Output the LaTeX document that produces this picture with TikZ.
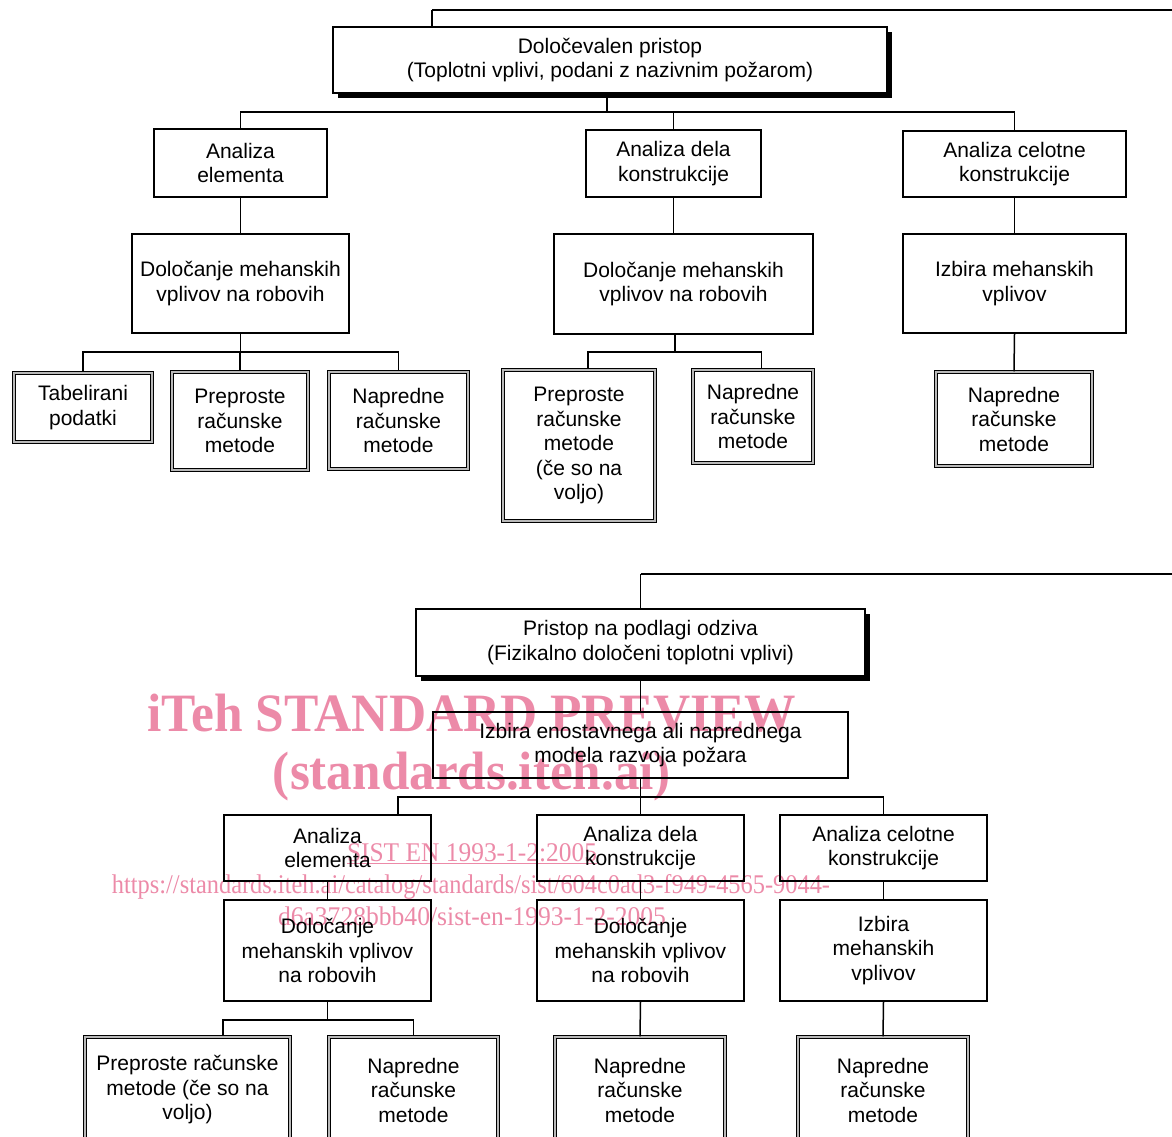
\documentclass[tikz,border=0pt]{standalone}
\usepackage{fontspec}
\setmainfont{Liberation Sans}
\newfontfamily\wmfont{Liberation Serif}
\usetikzlibrary{shadows}
\definecolor{wm}{RGB}{236,138,168}
\begin{document}
\begin{tikzpicture}[x=1pt,y=-1pt,
  every node/.style={font=\fontsize{21}{24.5}\selectfont, align=center, inner sep=0pt},
  sz/.style 2 args={minimum width=#1pt, minimum height=#2pt},
  plain/.style={draw, line width=1.7pt},
  shadowbox/.style={draw, line width=1.7pt, fill=white,
     drop shadow={shadow xshift=5pt, shadow yshift=-5pt, opacity=1, fill=black}},
  dbl/.style={draw, line width=1.3pt, double=gray!55, double distance=1.6pt},
  conn/.style={line width=1.5pt},
  feed/.style={line width=2.2pt},
  wmtext/.style={text=wm, anchor=base}
]
\useasboundingbox (0,0) rectangle (1172,1137);
\clip (0,0) rectangle (1172,1137);

% watermark (beneath the diagram)
\node[wmtext] (w1) at (472,731) {\resizebox{649pt}{\height}{\wmfont\bfseries\fontsize{54}{54}\selectfont iTeh STANDARD PREVIEW}};
\node[wmtext] (w2) at (472,789) {\resizebox{398pt}{\height}{\wmfont\bfseries\fontsize{54}{54}\selectfont (standards.iteh.ai)}};
\node[wmtext] (w3) at (472,861) {\resizebox{250pt}{\height}{\wmfont\fontsize{27}{27}\selectfont \underline{SIST EN 1993-1-2:2005}}};
\node[wmtext] (w4) at (471,893) {\resizebox{718pt}{\height}{\wmfont\fontsize{27}{27}\selectfont https://standards.iteh.ai/catalog/standards/sist/604c0ad3-f949-4565-9044-}};
\node[wmtext] (w5) at (472,925) {\resizebox{388pt}{\height}{\wmfont\fontsize{27}{27}\selectfont d6a3728bbb40/sist-en-1993-1-2-2005}};

% ---------- upper tree ----------
\node[shadowbox, sz={554}{66}] (A) at (610,60) {Določevalen pristop\\(Toplotni vplivi, podani z nazivnim požarom)};
\node[plain, sz={173}{68}] (B1) at (240.5,163) {Analiza\\elementa};
\node[plain, sz={175}{67}] (B2) at (673.5,163.5) {Analiza dela\\konstrukcije};
\node[plain, sz={223}{66}] (B3) at (1014.5,164) {Analiza celotne\\konstrukcije};
\node[plain, sz={217}{99}] (C1) at (240.5,283.5) {Določanje mehanskih\\vplivov na robovih};
\node[plain, sz={259}{100}] (C2) at (683.5,284) {Določanje mehanskih\\vplivov na robovih};
\node[plain, sz={223}{99}] (C3) at (1014.5,283.5) {Izbira mehanskih\\vplivov};
\node[dbl, sz={138}{69}] (D1) at (83,407.5) {Tabelirani\\podatki};
\node[dbl, sz={136}{98}] (D2) at (240,421) {Preproste\\računske\\metode};
\node[dbl, sz={139}{97}] (D3) at (398.5,420.5) {Napredne\\računske\\metode};
\node[dbl, sz={152}{151}] (D4) at (579,445.5) {Preproste\\računske\\metode\\(če so na\\voljo)};
\node[dbl, sz={120}{93}] (D5) at (753,416.5) {Napredne\\računske\\metode};
\node[dbl, sz={156}{94}] (D6) at (1014,419) {Napredne\\računske\\metode};

\coordinate (t1) at (432,10);
\coordinate (t1R) at (1172,10);
\draw[conn] (t1 |- A.north) -- (t1);
\draw[feed] (t1) -- (t1R);

\coordinate (busA) at (607,112);
\draw[conn] (A.south -| busA) -- (busA);
\draw[conn] (busA) -| (B1.north);
\draw[conn] (busA) -| (B2.north);
\draw[conn] (busA) -| (B3.north);
\draw[conn] (B1.south) -- (C1.north);
\draw[conn] (B2.south) -- (B2.south |- C2.north);
\draw[conn] (B3.south) -- (C3.north);
\coordinate (busC1) at (240.5,352);
\draw[conn] (C1.south) -- (busC1);
\draw[conn] (busC1) -| (D1.north);
\draw[conn] (busC1) -| (D2.north);
\draw[conn] (busC1) -| (D3.north);
\coordinate (busC2) at (675,352);
\draw[conn] (C2.south -| busC2) -- (busC2);
\draw[conn] (busC2) -| ([xshift=9pt]D4.north);
\draw[conn] (busC2) -| ([xshift=8.5pt]D5.north);
\draw[conn] (C3.south) -- (D6.north);

% ---------- lower tree ----------
\node[shadowbox, sz={449}{67}] (E) at (640.5,642.5) {Pristop na podlagi odziva\\(Fizikalno določeni toplotni vplivi)};
\node[plain, sz={415}{66}] (F) at (640.5,745) {Izbira enostavnega ali naprednega\\modela razvoja požara};
\node[plain, sz={207}{66}] (G1) at (327.5,848) {Analiza\\elementa};
\node[plain, sz={207}{66}] (G2) at (640.5,848) {Analiza dela\\konstrukcije};
\node[plain, sz={207}{66}] (G3) at (883.5,848) {Analiza celotne\\konstrukcije};
\node[plain, sz={207}{101}] (H1) at (327.5,950.5) {Določanje\\mehanskih vplivov\\na robovih};
\node[plain, sz={207}{101}] (H2) at (640.5,950.5) {Določanje\\mehanskih vplivov\\na robovih};
\node[plain, sz={207}{101}] (H3) at (883.5,950.5) {Izbira\\mehanskih\\vplivov};
\node[dbl, sz={205}{106}] (I1) at (187.5,1090) {Preproste računske\\metode (če so na\\voljo)};
\node[dbl, sz={169}{106}] (I2) at (413.5,1090) {Napredne\\računske\\metode};
\node[dbl, sz={170}{106}] (I3) at (640,1090) {Napredne\\računske\\metode};
\node[dbl, sz={170}{106}] (I4) at (883,1090) {Napredne\\računske\\metode};

\coordinate (t2) at (640.5,574);
\coordinate (t2R) at (1172,574);
\draw[conn] (E.north) -- (t2);
\draw[line width=2.6pt] (t2) -- (t2R);
\draw[conn] (E.south) -- (F.north);
\coordinate (busF) at (640.5,797);
\draw[conn] (F.south) -- (busF);
\draw[conn] (busF) -| ([xshift=70.5pt]G1.north);
\draw[conn] (busF) -- (G2.north);
\draw[conn] (busF) -| (G3.north);
\draw[conn] (G1.south) -- (H1.north);
\draw[conn] (G2.south) -- (H2.north);
\draw[conn] (G3.south) -- (H3.north);
\coordinate (busH1) at (327.5,1020);
\draw[conn] (H1.south) -- (busH1);
\draw[conn] (busH1) -| ([xshift=35.5pt]I1.north);
\draw[conn] (busH1) -| (I2.north);
\draw[conn] (H2.south) -- (I3.north);
\draw[conn] (H3.south) -- (I4.north);
\end{tikzpicture}
\end{document}
